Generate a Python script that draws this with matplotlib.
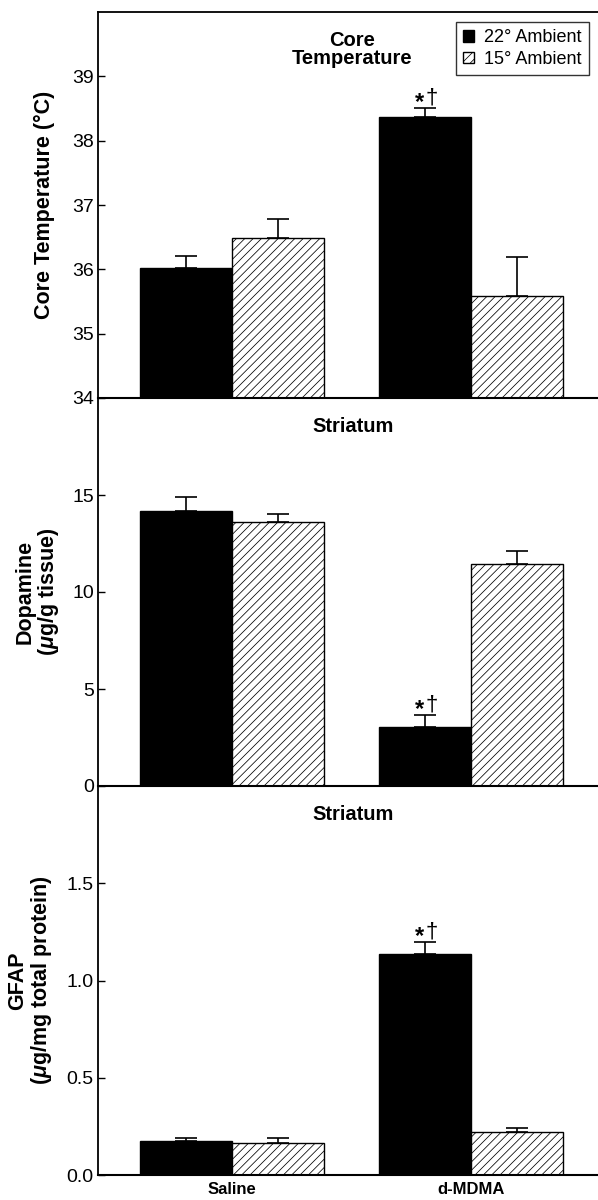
import numpy as np
import matplotlib
matplotlib.use("Agg")
import matplotlib.pyplot as plt
from matplotlib.patches import Patch

plt.rcParams['font.family'] = ['Liberation Sans', 'DejaVu Sans']
plt.rcParams['mathtext.fontset'] = 'custom'
plt.rcParams['mathtext.rm'] = 'Liberation Sans:bold'
plt.rcParams['mathtext.it'] = 'Liberation Sans:italic:bold'
plt.rcParams['mathtext.bf'] = 'Liberation Sans:bold'
plt.rcParams['hatch.linewidth'] = 0.55
plt.rcParams['hatch.color'] = 'black'

# ---- data ----
groups = ["Saline", "d-MDMA"]
series_labels = ["22° Ambient", "15° Ambient"]

temp_22 = [36.02, 38.37]
temp_22_err = [0.18, 0.14]
temp_15 = [36.49, 35.59]
temp_15_err = [0.30, 0.60]

da_22 = [14.2, 3.06]
da_22_err = [0.68, 0.62]
da_15 = [13.6, 11.45]
da_15_err = [0.42, 0.68]

gfap_22 = [0.175, 1.135]
gfap_22_err = [0.013, 0.065]
gfap_15 = [0.166, 0.222]
gfap_15_err = [0.022, 0.020]

panel_titles = ["Core\nTemperature", "Striatum", "Striatum"]
ylabels = ["Core Temperature (°C)", "Dopamine\n($\\mu$g/g tissue)",
           "GFAP\n($\\mu$g/mg total protein)"]
yticks_list = [[34, 35, 36, 37, 38, 39], [0, 5, 10, 15], [0.0, 0.5, 1.0, 1.5]]
ytick_labels = [["34", "35", "36", "37", "38", "39"], ["0", "5", "10", "15"],
                ["0.0", "0.5", "1.0", "1.5"]]
ylims = [(34, 40), (0, 20), (0, 2)]
sig_star = "*"
sig_dagger = "†"

panels = [
    (temp_22, temp_22_err, temp_15, temp_15_err),
    (da_22, da_22_err, da_15, da_15_err),
    (gfap_22, gfap_22_err, gfap_15, gfap_15_err),
]

W, H = 598, 1200
fig = plt.figure(figsize=(W / 100, H / 100), dpi=100)

left = 98 / W
right = 598 / W
edges_px = [12, 398, 786, 1175]
ylabel_x = [-0.108, -0.12, -0.135]

x = np.arange(len(groups))
w = 0.385
axes = []
for i, (v22, e22, v15, e15) in enumerate(panels):
    top = 1 - edges_px[i] / H
    bot = 1 - edges_px[i + 1] / H
    ax = fig.add_axes([left, bot, right - left, top - bot])
    axes.append(ax)
    base = ylims[i][0]
    ax.bar(x - w / 2, np.array(v22) - base, w, bottom=base, color='black',
           edgecolor='black', linewidth=1.0, zorder=2)
    ax.bar(x + w / 2, np.array(v15) - base, w, bottom=base, color='white',
           edgecolor='black', linewidth=1.0, hatch='////', zorder=2)
    ax.errorbar(x - w / 2, v22, yerr=[np.zeros(len(v22)), e22], fmt='none',
                ecolor='black', elinewidth=1.2, capsize=8, capthick=1.2, zorder=3)
    ax.errorbar(x + w / 2, v15, yerr=[np.zeros(len(v15)), e15], fmt='none',
                ecolor='black', elinewidth=1.2, capsize=8, capthick=1.2, zorder=3)
    # significance marks on d-MDMA 22° bar
    top_val = v22[1] + e22[1]
    ax.annotate(sig_star, (x[1] - w / 2, top_val), xytext=(-4.0, -1.0),
                textcoords='offset points', ha='center', va='baseline',
                fontsize=17, fontweight='bold')
    ax.annotate(sig_dagger, (x[1] - w / 2, top_val), xytext=(4.5, 3.2),
                textcoords='offset points', ha='center', va='baseline',
                fontsize=16)

    ax.set_xlim(-0.561, 1.531)
    ax.set_ylim(*ylims[i])
    ax.set_yticks(yticks_list[i])
    ax.set_yticklabels(ytick_labels[i])
    ax.tick_params(axis='y', direction='in', length=5, width=1.0, pad=3,
                   labelsize=14)
    ax.spines['right'].set_visible(False)
    ax.spines['left'].set_linewidth(1.3)
    ax.spines['bottom'].set_linewidth(1.5)
    if i == 0:
        ax.spines['top'].set_linewidth(1.3)
    else:
        ax.spines['top'].set_visible(False)
    ax.set_ylabel(ylabels[i], fontsize=15.5, fontweight='bold', va='center',
                  linespacing=1.05)
    ax.yaxis.set_label_coords(ylabel_x[i], 0.5)
    ax.patch.set_alpha(0)

    if i < 2:
        ax.set_xticks([])
    else:
        ax.set_xticks(x)
        ax.set_xticklabels(groups, fontsize=12, fontweight='bold')
        ax.tick_params(axis='x', length=0, pad=5)

axes[0].text(0.508, 0.952, panel_titles[0], transform=axes[0].transAxes,
             ha='center', va='top', fontsize=14.5, fontweight='bold',
             linespacing=0.95)
axes[1].text(0.51, 0.952, panel_titles[1], transform=axes[1].transAxes,
             ha='center', va='top', fontsize=14.5, fontweight='bold')
axes[2].text(0.51, 0.952, panel_titles[2], transform=axes[2].transAxes,
             ha='center', va='top', fontsize=14.5, fontweight='bold')

handles = [Patch(facecolor='black', edgecolor='black', linewidth=1.0),
           Patch(facecolor='white', edgecolor='black', linewidth=1.0, hatch='////')]
leg = axes[0].legend(handles, series_labels, loc='upper right',
                     bbox_to_anchor=(0.982, 0.974), borderaxespad=0,
                     fontsize=13, frameon=True, fancybox=False,
                     handlelength=0.62, handleheight=0.62, handletextpad=0.55,
                     borderpad=0.4, labelspacing=0.25)
leg.get_frame().set_edgecolor('black')
leg.get_frame().set_linewidth(1.0)

fig.savefig("out.png", dpi=100)
